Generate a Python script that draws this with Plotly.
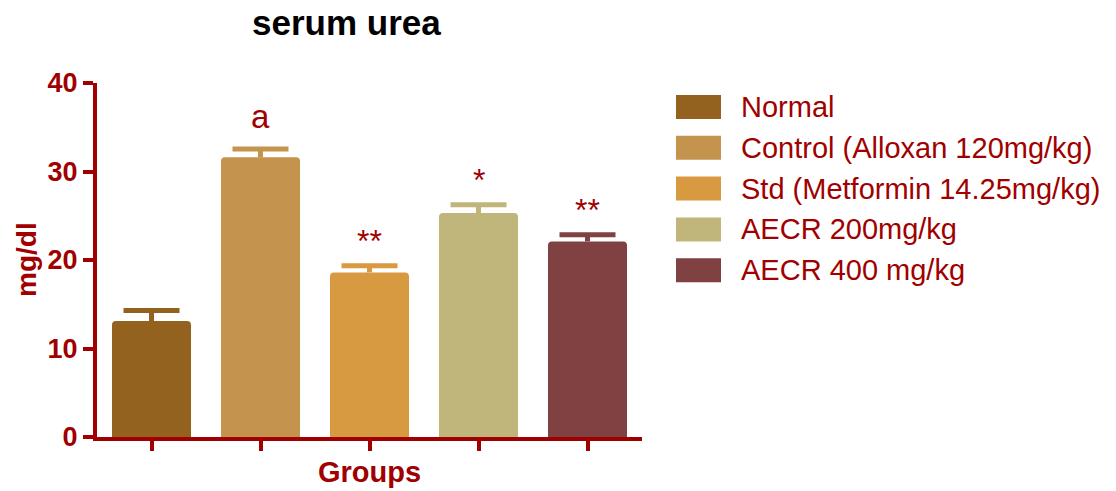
import plotly.graph_objects as go

groups = ["Normal", "Control (Alloxan 120mg/kg)", "Std (Metformin 14.25mg/kg)",
          "AECR 200mg/kg", "AECR 400 mg/kg"]
means = [13.1, 31.6, 18.6, 25.3, 22.1]
sems = [1.2, 0.95, 0.75, 0.95, 0.75]
sig_labels = ["", "a", "**", "*", "**"]
y_ticks = [0, 10, 20, 30, 40]

colors = ["#93621F", "#C4934E", "#D89A41", "#C0B67B", "#804142"]
RED = "#A00000"
FONT = "Liberation Sans, Arial, Helvetica, sans-serif"

W, H = 1116, 491
ML, MR, MT, MB = 97, 474, 83, 54
PW = W - ML - MR
PH = H - MT - MB


def px_x(px):
    return (px - ML) / PW


def px_y(py):
    return (H - MB - py) / PH


fig = go.Figure()
xs = list(range(len(groups)))
for i, g in enumerate(groups):
    fig.add_trace(go.Bar(
        x=[xs[i]], y=[means[i]], name=g,
        marker=dict(color=colors[i], line=dict(width=0), cornerradius=4),
        width=0.725,
        error_y=dict(type="data", array=[sems[i]], arrayminus=[0], symmetric=False,
                     color=colors[i], thickness=5, width=0),
        showlegend=False,
    ))
    # error bar cap
    fig.add_trace(go.Scatter(
        x=[xs[i]], y=[means[i] + sems[i]], mode="markers",
        marker=dict(symbol="line-ew", size=40, color=colors[i],
                    line=dict(color=colors[i], width=5)),
        showlegend=False, hoverinfo="skip",
    ))

annotations = []
for i, lab in enumerate(sig_labels):
    if not lab:
        continue
    big = lab == "a"
    annotations.append(dict(
        x=xs[i], y=means[i] + sems[i] + (3.7 if big else 2.8), xref="x", yref="y",
        text=lab, showarrow=False, yanchor="middle",
        font=dict(family=FONT, size=33 if big else 32, color=RED),
    ))

# axis titles
annotations.append(dict(x=0.5, y=px_y(472), xref="paper", yref="paper", text="Groups",
                        showarrow=False, yanchor="middle",
                        font=dict(family=FONT, size=29, color=RED, weight="bold")))
annotations.append(dict(x=px_x(26), y=0.5, xref="paper", yref="paper", text="mg/dl",
                        showarrow=False, textangle=-90, xanchor="center",
                        font=dict(family=FONT, size=28, color=RED, weight="bold")))
# title
annotations.append(dict(x=px_x(346), y=px_y(22), xref="paper", yref="paper", text="serum urea",
                        showarrow=False, yanchor="middle",
                        font=dict(family=FONT, size=35, color="black", weight="bold")))

# manual legend
shapes = []
row0, step = 107, 40.8
for i, g in enumerate(groups):
    cy = row0 + i * step
    shapes.append(dict(type="rect", xref="paper", yref="paper",
                       x0=px_x(676), x1=px_x(721), y0=px_y(cy - 12), y1=px_y(cy + 12),
                       fillcolor=colors[i], line=dict(width=0)))
    annotations.append(dict(x=px_x(739), y=px_y(cy), xref="paper", yref="paper", text=g,
                            showarrow=False, xanchor="left", yanchor="middle",
                            font=dict(family=FONT, size=29, color=RED)))

fig.update_layout(
    width=W, height=H,
    margin=dict(l=ML, r=MR, t=MT, b=MB, pad=0),
    plot_bgcolor="white", paper_bgcolor="white",
    annotations=annotations, shapes=shapes,
    xaxis=dict(range=[-0.5, 4.5], tickmode="array", tickvals=xs, showticklabels=False,
               ticks="outside", ticklen=10, tickwidth=4, tickcolor=RED,
               showline=True, linewidth=4, linecolor=RED, showgrid=False, zeroline=False,
               fixedrange=True),
    yaxis=dict(range=[0, 40], tickmode="array", tickvals=y_ticks,
               ticks="outside", ticklen=10, tickwidth=4, tickcolor=RED,
               tickfont=dict(family=FONT, size=27, color=RED, weight="bold"),
               showline=True, linewidth=4, linecolor=RED, showgrid=False, zeroline=False,
               fixedrange=True),
    showlegend=False,
)

fig.write_html("out.html")
